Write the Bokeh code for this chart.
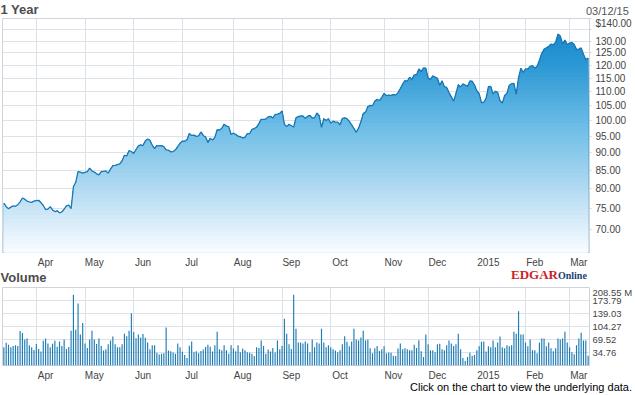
import numpy as np
from bokeh.plotting import figure
from bokeh.models import Range1d, FixedTicker, NumeralTickFormatter, Div
from bokeh.layouts import column
from bokeh.embed import file_html
from bokeh.resources import INLINE

# ---------------- data ----------------
month_labels = ["Apr", "May", "Jun", "Jul", "Aug", "Sep", "Oct", "Nov", "Dec", "2015", "Feb", "Mar"]
# trading-session index of the first session of each month (session 0 = 03/12/14)
month_start = [14, 35, 56, 77, 99, 120, 141, 164, 183, 205, 225, 244]
price_ticks = [70, 75, 80, 85, 90, 95, 100, 105, 110, 115, 120, 125, 130, 135, 140]
volume_ticks = [34.76, 69.52, 104.27, 139.03, 173.79, 208.55]

close_mar14 = [76.3, 75.4, 74.9, 75.3, 75.6, 75.5, 75.9, 76.6, 77.6, 77.3, 76.8, 76.6, 76.5, 76.8]
close_apr14 = [76.9, 77.0, 76.4, 75.7, 74.7, 74.8, 75.4, 74.6, 74.2, 74.4, 73.9, 74.1, 74.8, 75.6,
               75.8, 74.9, 80.5, 81.7, 84.6, 84.5, 84.2]
close_may14 = [84.4, 84.6, 85.6, 84.8, 84.5, 84.0, 83.7, 84.6, 84.7, 84.8, 84.2, 85.3, 86.3, 86.4,
               86.6, 86.8, 87.7, 89.3, 89.1, 90.7, 90.4]
close_jun14 = [89.8, 91.0, 92.1, 92.4, 92.2, 93.6, 94.2, 93.8, 92.3, 91.3, 92.2, 92.1, 92.2, 91.9,
               90.9, 90.8, 90.3, 90.4, 90.9, 91.9, 92.9]
close_jul14 = [93.5, 93.5, 94.0, 95.9, 95.3, 95.4, 95.0, 95.2, 96.4, 95.3, 94.8, 93.1, 94.4, 93.9,
               94.7, 97.1, 97.0, 97.6, 98.9, 98.3, 98.1, 95.6]
close_aug14 = [96.1, 95.6, 95.1, 94.9, 94.5, 94.7, 95.9, 95.9, 97.2, 97.5, 97.9, 99.1, 100.5, 100.5,
               100.6, 101.3, 101.5, 100.9, 102.1, 102.2, 102.5]
close_sep14 = [103.3, 98.9, 98.1, 98.9, 98.4, 98.0, 101.0, 101.4, 101.6, 101.6, 100.8, 101.5, 101.8,
               100.9, 101.0, 102.6, 101.7, 97.9, 100.7, 100.1, 100.7]
close_oct14 = [99.2, 99.9, 99.6, 99.6, 98.7, 100.8, 101.0, 100.7, 99.8, 98.7, 97.5, 96.3, 97.7, 99.7,
               102.4, 102.9, 104.8, 105.2, 105.1, 106.7, 107.3, 106.9, 108.0]
close_nov14 = [109.4, 108.6, 108.8, 108.7, 109.0, 108.8, 109.7, 111.2, 112.8, 114.1, 113.9, 115.4,
               114.6, 116.3, 116.4, 118.6, 117.6, 119.0, 118.9]
close_dec14 = [115.1, 114.6, 115.9, 115.5, 115.0, 112.4, 114.1, 111.9, 111.6, 109.7, 108.2, 106.7,
               109.4, 112.6, 111.8, 112.9, 112.5, 112.0, 114.0, 113.9, 112.5, 110.4]
close_jan15 = [109.3, 106.2, 106.3, 107.7, 111.9, 112.0, 109.2, 110.2, 109.8, 106.8, 106.0, 108.7,
               109.5, 112.4, 113.0, 113.1, 109.1, 115.3, 118.9, 117.2]
close_feb15 = [118.6, 118.6, 119.6, 119.9, 118.9, 119.7, 122.0, 124.9, 126.5, 127.1, 127.8, 128.7,
               128.4, 129.5, 133.0, 132.2, 128.8, 130.4, 128.5]
close_mar15 = [129.1, 129.4, 128.5, 126.4, 126.6, 127.1, 124.5, 122.2, 123.0]

# volume, millions of shares
volume_m = [
    48.7, 60.8, 55.6, 48.7, 52.1, 53.9, 52.1, 92.1, 86.9, 69.5,
    72.1, 53.9, 48.7, 41.7, 57.4, 44.3, 37.4, 66.0, 72.1, 59.1,
    48.7, 58.2, 66.0, 50.4, 64.3, 52.1, 69.5, 44.3, 49.5, 93.0,
    189.4, 95.6, 166.0, 82.6, 113.8, 59.1, 46.9, 69.5, 93.0, 69.5,
    57.4, 72.1, 52.1, 40.0, 43.5, 56.5, 66.9, 77.3, 56.5, 48.7,
    48.7, 56.5, 85.2, 78.2, 93.0, 139.9, 89.5, 73.0, 82.6, 74.7,
    84.3, 73.9, 61.7, 43.5, 53.9, 53.9, 33.9, 29.5, 31.3, 33.0,
    101.7, 40.0, 38.2, 34.8, 31.3, 59.1, 48.7, 36.5, 27.8, 20.0,
    53.0, 64.3, 35.6, 38.2, 33.0,
    39.1, 42.6, 49.5, 55.6, 50.4, 37.4, 53.9, 90.4, 43.5, 40.8,
    53.9, 40.8, 31.3, 53.9, 45.2, 38.2, 53.9, 35.6, 45.2, 40.8,
    35.6, 33.9, 31.3, 25.2, 48.7, 46.9, 66.9, 52.1, 31.3, 42.6,
    37.4, 46.9, 34.8, 66.9, 43.5, 52.1, 125.1, 85.2, 56.5, 44.3,
    189.4, 98.2, 61.7, 61.7, 59.1, 64.3, 59.1, 35.6, 69.5, 48.7,
    61.7, 59.1, 98.2, 61.7, 48.7, 53.9, 48.7, 43.5, 40.0, 35.6,
    40.8, 56.5, 78.2, 63.4, 51.3, 64.3, 98.2, 69.5, 66.9, 74.7,
    93.0, 66.9, 69.5, 46.1, 33.0, 46.1, 52.1, 39.1, 43.5, 51.3,
    33.0, 34.8, 33.9,
    26.1, 25.2, 45.2, 59.1, 43.5, 46.1, 43.5, 40.8, 40.8, 55.6,
    46.9, 67.8, 38.2, 22.6, 82.6, 56.5, 40.8, 40.8, 35.6, 56.5,
    58.2, 43.5, 40.8, 53.9, 66.9, 59.1, 52.1, 56.5, 85.2, 43.5,
    20.0, 12.2, 22.6, 33.9, 26.1, 27.8, 40.8, 51.3, 63.4, 64.3,
    37.4, 51.3, 48.7, 66.9, 48.7, 61.7, 77.3, 48.7, 46.1, 53.9,
    51.3, 53.9, 90.4, 85.2, 145.1, 82.6, 82.6, 61.7, 51.3, 69.5,
    40.8, 40.8, 33.0, 61.7, 72.1, 72.1, 51.3, 61.7, 46.1, 38.2,
    46.1, 72.1, 69.5, 72.1, 90.4, 61.7, 48.7, 35.6, 30.4, 53.9,
    72.1, 87.8, 66.9, 66.9, 26.1,
]

close = (close_mar14 + close_apr14 + close_may14 + close_jun14 + close_jul14 + close_aug14 +
         close_sep14 + close_oct14 + close_nov14 + close_dec14 + close_jan15 + close_feb15 + close_mar15)

# ---------------- styling ----------------
AXIS_FONT = "Liberation Sans"
GRID = "#dde1e8"
BORDER = "#cfd3da"
LABEL_COL = "#444444"
W = 635
LABEL_SHIFT = 4.0   # month names sit just right of their month gridline

idx = np.arange(len(close))
close_arr = np.array(close, dtype=float)
y_min, y_max = 64.86, 140.0
x_range = Range1d(-0.59, 252.6)

label_pos = [m + LABEL_SHIFT for m in month_start]
month_overrides = {p: lab for p, lab in zip(label_pos, month_labels)}


def style_xaxis(p):
    ax = p.xaxis[0]
    ax.ticker = FixedTicker(ticks=label_pos)
    ax.major_label_overrides = month_overrides
    ax.axis_line_color = None
    ax.major_tick_line_color = None
    ax.minor_tick_line_color = None
    ax.major_tick_out = 0
    ax.major_tick_in = 0
    ax.major_label_standoff = 4
    ax.major_label_text_font = AXIS_FONT
    ax.major_label_text_font_size = "10px"
    ax.major_label_text_color = LABEL_COL
    p.xgrid.ticker = FixedTicker(ticks=month_start)
    p.xgrid.grid_line_color = GRID
    p.outline_line_color = BORDER
    p.outline_line_width = 1


def style_yaxis(ax, standoff, tick_out, size):
    ax.axis_line_color = None
    ax.major_tick_out = tick_out
    ax.major_tick_in = 0
    ax.major_tick_line_color = BORDER if tick_out else None
    ax.minor_tick_line_color = None
    ax.major_label_standoff = standoff
    ax.major_label_text_baseline = "hanging"
    ax.major_label_text_font = AXIS_FONT
    ax.major_label_text_font_size = size
    ax.major_label_text_color = LABEL_COL


def text_div(height, spans):
    html = '<div style="position:relative;width:%dpx;height:%dpx;">%s</div>' % (W, height, "".join(spans))
    return Div(text=html, width=W, height=height, margin=0)


def span(txt, pos, top, size, color, weight="normal", family="'Liberation Sans', Arial, sans-serif"):
    return ('<span style="position:absolute;%s;top:%spx;white-space:nowrap;font-family:%s;'
            'font-size:%s;font-weight:%s;line-height:%s;color:%s;">%s</span>'
            % (pos, top, family, size, weight, size, color, txt))


# ---------------- header ----------------
head1 = text_div(17, [
    span("1 Year", "left:0.5px", 3.3, "13px", "#4d4d4d", "bold"),
    span("03/12/15", "right:6.2px", 6.0, "11px", "#555555"),
])

# ---------------- price panel ----------------
p1 = figure(width=W, height=253, title=None, x_range=x_range,
            y_range=Range1d(y_min, y_max), y_axis_type="log", y_axis_location="right",
            output_backend="svg", toolbar_location=None,
            min_border_left=2, min_border_right=43, min_border_top=1, min_border_bottom=17)
style_xaxis(p1)
yax = p1.yaxis[0]
yax.ticker = FixedTicker(ticks=price_ticks)
yax.formatter = NumeralTickFormatter(format="0.00")
yax.major_label_overrides = {140: "$140.00", 135: ""}
style_yaxis(yax, 4, 2, "10px")
p1.ygrid.ticker = FixedTicker(ticks=price_ticks)
p1.ygrid.grid_line_color = GRID

# vertical gradient under the price line, built from stacked bands
stops = [(0.0, (18, 128, 198)), (0.2, (44, 152, 212)), (0.45, (106, 187, 230)),
         (0.7, (170, 215, 240)), (1.0, (250, 252, 255))]


def grad(t):
    for (t0, c0), (t1, c1) in zip(stops[:-1], stops[1:]):
        if t <= t1:
            f = (t - t0) / (t1 - t0)
            return "#%02x%02x%02x" % tuple(int(round(a + (b - a) * f)) for a, b in zip(c0, c1))
    return "#%02x%02x%02x" % stops[-1][1]


n_bands = 56
edges = np.exp(np.linspace(np.log(y_max), np.log(y_min), n_bands + 1))
base = np.full(len(idx), y_min)
for k in range(n_bands):
    p1.varea(x=idx, y1=base, y2=np.minimum(close_arr, edges[k]),
             fill_color=grad((k + 0.5) / n_bands), fill_alpha=1.0)
p1.line(idx, close_arr, line_color="#1b78b3", line_width=1.3)

# ---------------- volume header ----------------
logo = ('<span style="position:absolute;left:511px;top:0px;white-space:nowrap;'
        'font-family:\'Liberation Serif\', serif;font-weight:bold;line-height:10px;">'
        '<span style="color:#cc1f2a;font-size:13px;">EDGAR</span>'
        '<span style="color:#1d3f78;font-size:10px;">Online</span></span>')
head2 = text_div(16, [
    span("Volume", "left:0.5px", 0.7, "13px", "#4d4d4d", "bold"),
    logo,
])

# ---------------- volume panel ----------------
p2 = figure(width=W, height=97, title=None, x_range=x_range,
            y_range=Range1d(0, 208.55), y_axis_location="right",
            output_backend="svg", toolbar_location=None,
            min_border_left=2, min_border_right=43, min_border_top=1, min_border_bottom=16)
style_xaxis(p2)
vax = p2.yaxis[0]
vax.ticker = FixedTicker(ticks=volume_ticks)
vax.major_label_overrides = {208.55: "208.55 M"}
style_yaxis(vax, 3, 0, "9.5px")
p2.ygrid.ticker = FixedTicker(ticks=volume_ticks)
p2.ygrid.grid_line_color = GRID

p2.vbar(x=idx, top=volume_m, bottom=0, width=0.5, fill_color="#1f7db6", line_color=None)

# ---------------- footer ----------------
foot = text_div(12, [
    span("Click on the chart to view the underlying data.", "right:3px", -0.8, "11px", "#000000"),
])

layout = column(head1, p1, head2, p2, foot, spacing=0)
open("out.html", "w").write(file_html(layout, INLINE))
